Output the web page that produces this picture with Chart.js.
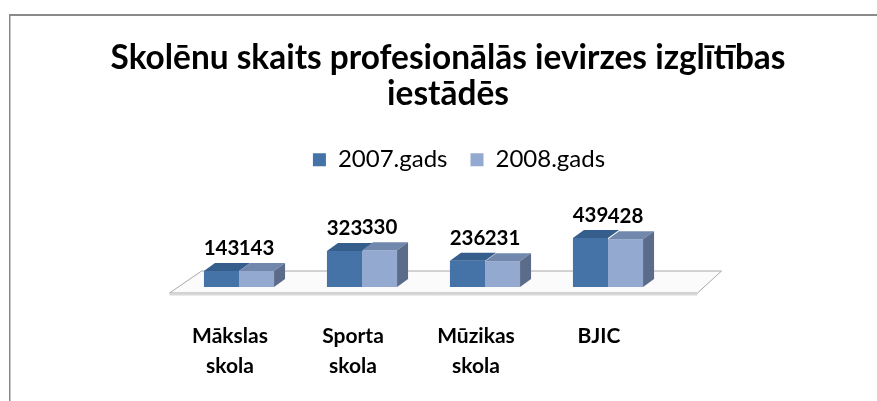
<!DOCTYPE html>
<html>
<head>
<meta charset="utf-8">
<script src="https://cdn.jsdelivr.net/npm/chart.js@4/dist/chart.umd.min.js"></script>
<style>
  html, body { margin: 0; padding: 0; background: #ffffff; width: 877px; height: 401px; overflow: hidden; }
  #frame { position: absolute; left: 9px; top: 14px; width: 900px; height: 420px;
           border-left: 1px solid #8a8a8a; border-top: 2px solid #8a8a8a;
           box-shadow: inset 1px 0 0 #c4c4c4; }
  #wrap { position: absolute; left: 0; top: 0; width: 877px; height: 401px; }
</style>
</head>
<body>
<div id="frame"></div>
<div id="wrap"><canvas id="c" width="877" height="401"></canvas></div>
<script>
const titleLines = ['Skolēnu skaits profesionālās ievirzes izglītības', 'iestādēs'];
const categories = [['Mākslas', 'skola'], ['Sporta', 'skola'], ['Mūzikas', 'skola'], ['BJIC']];
const seriesNames = ['2007.gads', '2008.gads'];
const values2007 = [143, 323, 236, 439];
const values2008 = [143, 330, 231, 428];

const FONT = 'Lato, "Open Sans", sans-serif';
const frontColors = ['#4572A7', '#93A9CF'];
const topColors = ['#365E8C', '#7188AC'];
const sideColor = '#5B6B8A';
const DX = 11, DY = 8;

const legendShift = {
  id: 'legendShift',
  afterLayout(chart) {
    if (chart.legend) { chart.legend.left += 11; chart.legend.right += 11; }
  }
};

const floorPlugin = {
  id: 'floor3d',
  beforeDatasetsDraw(chart) {
    const {ctx, chartArea} = chart;
    const l = chartArea.left, r = chartArea.right, b = chartArea.bottom;
    ctx.save();
    ctx.beginPath();
    ctx.moveTo(l - 8, b + 6);
    ctx.lineTo(r + 28, b + 6);
    ctx.lineTo(r + 52, b - 16);
    ctx.lineTo(l + 24, b - 16);
    ctx.closePath();
    ctx.fillStyle = '#fbfbfb';
    ctx.fill();
    ctx.strokeStyle = '#a8a8a8';
    ctx.lineWidth = 1;
    ctx.stroke();
    ctx.beginPath();
    ctx.moveTo(l - 8, b + 7.5);
    ctx.lineTo(r + 28, b + 7.5);
    ctx.strokeStyle = '#d8d8d8';
    ctx.lineWidth = 2;
    ctx.stroke();
    ctx.restore();
  }
};

const bar3dPlugin = {
  id: 'bar3d',
  afterDatasetsDraw(chart) {
    const {ctx} = chart;
    ctx.save();
    chart.data.datasets.forEach((ds, di) => {
      const meta = chart.getDatasetMeta(di);
      meta.data.forEach((el) => {
        const p = el.getProps(['x', 'y', 'base', 'width'], true);
        const left = p.x - p.width / 2, right = p.x + p.width / 2;
        ctx.beginPath();
        ctx.moveTo(left, p.y);
        ctx.lineTo(right, p.y);
        ctx.lineTo(right + DX, p.y - DY);
        ctx.lineTo(left + DX, p.y - DY);
        ctx.closePath();
        ctx.fillStyle = topColors[di];
        ctx.fill();
        if (di === chart.data.datasets.length - 1) {
          ctx.beginPath();
          ctx.moveTo(right, p.y);
          ctx.lineTo(right + DX, p.y - DY);
          ctx.lineTo(right + DX, p.base - DY);
          ctx.lineTo(right, p.base);
          ctx.closePath();
          ctx.fillStyle = sideColor;
          ctx.fill();
        }
      });
    });
    ctx.fillStyle = '#000';
    ctx.font = 'bold 20.5px ' + FONT;
    ctx.textAlign = 'center';
    ctx.textBaseline = 'alphabetic';
    chart.data.datasets.forEach((ds, di) => {
      const meta = chart.getDatasetMeta(di);
      meta.data.forEach((el, i) => {
        const p = el.getProps(['x', 'y'], true);
        ctx.fillText(String(ds.data[i]), p.x, p.y - 16);
      });
    });
    ctx.restore();
  }
};

new Chart(document.getElementById('c'), {
  type: 'bar',
  data: {
    labels: categories,
    datasets: [
      { label: seriesNames[0], data: values2007, backgroundColor: frontColors[0], borderWidth: 0 },
      { label: seriesNames[1], data: values2008, backgroundColor: frontColors[1], borderWidth: 0 }
    ]
  },
  options: {
    responsive: false,
    animation: false,
    devicePixelRatio: 1,
    categoryPercentage: 0.57,
    barPercentage: 1.0,
    layout: { padding: { left: 19, right: 0, top: 0, bottom: 0 } },
    plugins: {
      title: {
        display: true,
        text: titleLines,
        color: '#000',
        font: { family: FONT, size: 33.4, weight: 'bold', lineHeight: 1.08 },
        padding: { top: 40.5, bottom: 12 }
      },
      legend: {
        display: true,
        position: 'top',
        labels: {
          color: '#000',
          font: { family: FONT, size: 24 },
          boxWidth: 13,
          boxHeight: 13,
          padding: 23
        }
      },
      tooltip: { enabled: false }
    },
    scales: {
      x: {
        grid: { display: false, drawTicks: false },
        border: { display: false },
        ticks: {
          color: '#000',
          font: { family: FONT, size: 21, weight: 'bold', lineHeight: 1.4 },
          padding: 35,
          labelOffset: -9,
          maxRotation: 0,
          autoSkip: false
        },
        afterFit(s) { s.height = 114; }
      },
      y: {
        position: 'left',
        min: 0,
        max: 945,
        display: true,
        grid: { display: false, drawTicks: false },
        border: { display: false },
        ticks: { display: false },
        afterFit(s) { s.width = 158.5; }
      },
      yR: {
        position: 'right',
        display: true,
        grid: { display: false, drawTicks: false },
        border: { display: false },
        ticks: { display: false },
        afterFit(s) { s.width = 207.5; }
      }
    }
  },
  plugins: [legendShift, floorPlugin, bar3dPlugin]
});
</script>
</body>
</html>
